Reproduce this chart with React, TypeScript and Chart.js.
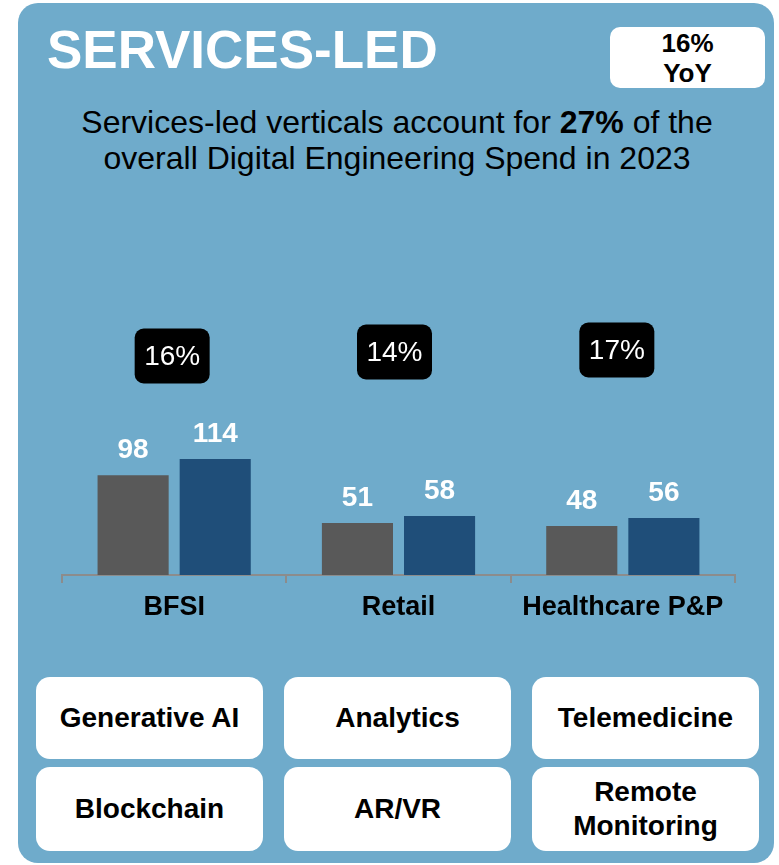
import React, { useEffect, useRef } from "react";
import { Chart, registerables } from "chart.js";

Chart.register(...registerables);

const categories = ["BFSI", "Retail", "Healthcare P&P"];
const spend2022 = [98, 51, 48];
const spend2023 = [114, 58, 56];
const growthLabels = ["16%", "14%", "17%"];
const techRow1 = ["Generative AI", "Analytics", "Telemedicine"];
const techRow2 = ["Blockchain", "AR/VR", "Remote\nMonitoring"];

const FONT = '"Liberation Sans", Arial, Helvetica, sans-serif';
const PANEL = "#6FABCB";

const valueLabelPlugin = {
  id: "valueLabels",
  afterDatasetsDraw(chart: any) {
    const ctx = chart.ctx;
    ctx.save();
    ctx.fillStyle = "#ffffff";
    ctx.font = `bold 28px ${FONT}`;
    ctx.textAlign = "center";
    ctx.textBaseline = "alphabetic";
    chart.data.datasets.forEach((ds: any, di: number) => {
      const meta = chart.getDatasetMeta(di);
      meta.data.forEach((bar: any, i: number) => {
        ctx.fillText(String(ds.data[i]), bar.x, bar.y - 17);
      });
    });
    ctx.restore();
  },
};

const growthBoxPlugin = {
  id: "growthBoxes",
  afterDraw(chart: any) {
    const ctx = chart.ctx;
    const xs = chart.scales.x;
    const boxY = [56, 52, 50];
    const w = 75;
    const h = 55;
    ctx.save();
    growthLabels.forEach((lab, i) => {
      const cx = xs.getPixelForValue(i) - 2 - i * 2;
      const cy = boxY[i];
      ctx.fillStyle = "#000000";
      ctx.beginPath();
      (ctx as any).roundRect(cx - w / 2, cy - h / 2, w, h, 9);
      ctx.fill();
      ctx.fillStyle = "#ffffff";
      ctx.font = `28px ${FONT}`;
      ctx.textAlign = "center";
      ctx.textBaseline = "middle";
      ctx.fillText(lab, cx, cy + 1);
    });
    ctx.restore();
  },
};

function TechBox({ label, left, top, height }: { label: string; left: number; top: number; height: number }) {
  const lines = label.split("\n");
  return (
    <div
      style={{
        position: "absolute",
        left,
        top,
        width: 227,
        height,
        background: "#ffffff",
        borderRadius: 14,
        display: "flex",
        flexDirection: "column",
        alignItems: "center",
        justifyContent: "center",
        fontFamily: FONT,
        fontWeight: "bold",
        fontSize: 28,
        lineHeight: "34px",
        color: "#000",
        textAlign: "center",
      }}
    >
      {lines.map((l, i) => (
        <div key={i}>{l}</div>
      ))}
    </div>
  );
}

export default function App() {
  const canvasRef = useRef<HTMLCanvasElement | null>(null);

  useEffect(() => {
    if (!canvasRef.current) return;
    const chart = new Chart(canvasRef.current, {
      type: "bar",
      data: {
        labels: categories,
        datasets: [
          {
            label: "2022",
            data: spend2022,
            backgroundColor: "#595959",
            categoryPercentage: 0.732,
            barPercentage: 0.866,
          },
          {
            label: "2023",
            data: spend2023,
            backgroundColor: "#1F4E79",
            categoryPercentage: 0.732,
            barPercentage: 0.866,
          },
        ],
      },
      options: {
        animation: false,
        responsive: false,
        maintainAspectRatio: false,
        layout: { padding: { left: 62, right: 44, top: 0, bottom: 0 } },
        plugins: {
          legend: { display: false },
          tooltip: { enabled: false },
        },
        scales: {
          x: {
            afterFit: (scale: any) => {
              scale.height = 55;
            },
            grid: {
              display: true,
              drawOnChartArea: false,
              drawTicks: true,
              tickLength: 8,
              color: "#8C8C8C",
              lineWidth: 2,
            },
            border: { display: true, color: "#8C8C8C", width: 2 },
            ticks: {
              color: "#000000",
              padding: 8,
              font: { family: FONT, size: 27, weight: "bold" },
            },
          },
          y: {
            display: false,
            min: 0,
            max: 270,
          },
        },
      },
      plugins: [valueLabelPlugin, growthBoxPlugin],
    });
    return () => chart.destroy();
  }, []);

  return (
    <div style={{ position: "absolute", left: 0, top: 0, width: 779, height: 865, background: "#ffffff", overflow: "hidden" }}>
      <div
        style={{
          position: "absolute",
          left: 18,
          top: 3,
          width: 756,
          height: 860,
          background: PANEL,
          borderRadius: 20,
        }}
      />
      <div
        style={{
          position: "absolute",
          left: 47,
          top: 23,
          fontFamily: FONT,
          fontWeight: "bold",
          fontSize: 53,
          lineHeight: 1,
          color: "#ffffff",
          whiteSpace: "nowrap",
        }}
      >
        SERVICES-LED
      </div>
      <div
        style={{
          position: "absolute",
          left: 610,
          top: 27,
          width: 155,
          height: 61,
          background: "#ffffff",
          borderRadius: 10,
          display: "flex",
          flexDirection: "column",
          alignItems: "center",
          justifyContent: "center",
          fontFamily: FONT,
          fontWeight: "bold",
          fontSize: 26,
          lineHeight: "30px",
          color: "#000",
        }}
      >
        <div>16%</div>
        <div>YoY</div>
      </div>
      <div
        style={{
          position: "absolute",
          left: 18,
          top: 104,
          width: 758,
          textAlign: "center",
          fontFamily: FONT,
          fontSize: 32,
          lineHeight: "36px",
          color: "#000",
        }}
      >
        <div>
          Services-led verticals account for <b>27%</b> of the
        </div>
        <div>overall Digital Engineering Spend in 2023</div>
      </div>
      <canvas
        ref={canvasRef}
        width={779}
        height={330}
        style={{ position: "absolute", left: 0, top: 300, width: 779, height: 330 }}
      />
      {techRow1.map((t, i) => (
        <TechBox key={"a" + i} label={t} left={36 + i * 248} top={677} height={82} />
      ))}
      {techRow2.map((t, i) => (
        <TechBox key={"b" + i} label={t} left={36 + i * 248} top={767} height={84} />
      ))}
    </div>
  );
}
